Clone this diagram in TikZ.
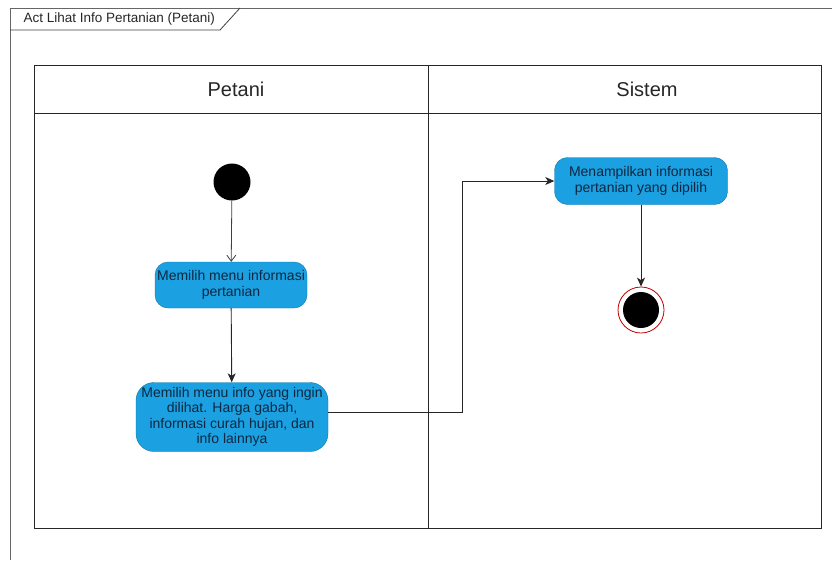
\documentclass[tikz,border=0pt]{standalone}
\usepackage{fontspec}
\setmainfont{Liberation Sans}
\usetikzlibrary{arrows.meta,positioning}

\definecolor{actfill}{HTML}{1BA1E2}
\definecolor{actdraw}{HTML}{1073A8}
\definecolor{acttext}{HTML}{0F2740}

\begin{document}
\begin{tikzpicture}[
  x=1pt, y=-1pt,
  every node/.style={font=\fontsize{14}{15.5}\selectfont},
  actbox/.style={rectangle, rounded corners=13pt, draw=actdraw, fill=actfill,
    text=acttext, align=center, inner sep=2pt},
  lanehead/.style={font=\fontsize{20}{24}\selectfont, text=black!85},
  flow/.style={draw=black!85, line width=0.9pt, -{Stealth[length=9pt,width=8pt,inset=2.5pt]}}
]
\useasboundingbox (0,0) rectangle (832,560);
% frame and title tab
\draw[black!60, line width=1pt] (10,560) -- (10,8) -- (832,8);
\draw[black!75, line width=0.8pt] (10,30) -- (220,30) -- (240,8);
\node[anchor=west, font=\fontsize{13.5}{16}\selectfont, text=black!85] (title) at (20,19) {Act Lihat Info Pertanian (Petani)};
% swimlanes
\draw[black!85, line width=0.9pt] (34,65) rectangle (821,528);
\draw[black!85, line width=0.9pt] (34,113) -- (821,113);
\draw[black!85, line width=0.9pt] (428,65) -- (428,528);
\node[lanehead] (lpetani) at (236,89) {Petani};
\node[lanehead] (lsistem) at (647,89) {Sistem};
% activities
\node[circle, fill=black, minimum size=37pt, inner sep=0pt] (start) at (232,182) {};
\node[actbox, minimum width=152pt, minimum height=46pt] (pilih) at (231,285) {Memilih menu informasi\\pertanian};
\node[actbox, minimum width=192pt, minimum height=69pt, rounded corners=18pt] (menu) at (232,417) {Memilih menu info yang ingin\\dilihat. Harga gabah,\\informasi curah hujan, dan\\info lainnya};
\node[actbox, minimum width=173pt, minimum height=47pt] (tampil) at (641,181) {Menampilkan informasi\\pertanian yang dipilih};
\node[circle, draw=red!75!black, line width=0.8pt, fill=white, minimum size=46pt, inner sep=0pt] (stop) at (641,310) {};
\node[circle, fill=black, minimum size=36pt, inner sep=0pt] at (stop.center) {};
% connectors
\draw[draw=black!75, line width=0.8pt, -{Straight Barb[length=6pt,width=9pt]}] (start) -- (pilih);
\draw[flow] (pilih) -- (menu);
\draw[flow] ([yshift=5pt]menu.east) -- (462,412) |- (tampil.west);
\draw[flow] (tampil) -- (stop);
\end{tikzpicture}
\end{document}
